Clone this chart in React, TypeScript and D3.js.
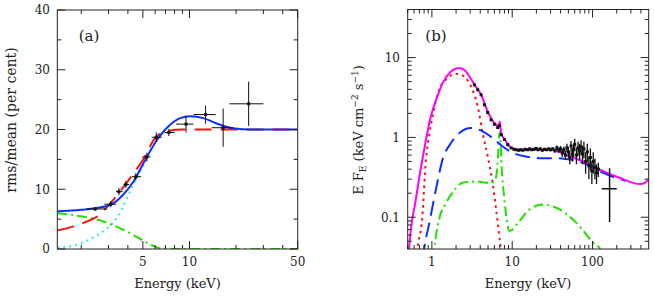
import React from "react";
import * as d3 from "d3";

// ---- panel (a): rms spectrum ----
const rmsE = [2.46, 3.1, 3.5, 3.88, 4.5, 5.3, 6.1, 7.35, 9.5, 12.7, 16.5, 24.1];
const rmsElo = [2.17, 2.82, 3.35, 3.75, 4.24, 4.95, 5.7, 6.9, 8.2, 10.6, 13.9, 18.1];
const rmsEhi = [2.93, 3.35, 3.7, 4.08, 4.87, 5.6, 6.6, 8.0, 10.6, 14.8, 19.2, 30];
const rmsVal = [6.7, 7.5, 9.6, 10.8, 12.1, 15.4, 18.7, 19.5, 20.9, 22.5, 20.3, 24.3];
const rmsErr = [0.3, 0.5, 0.6, 0.6, 0.6, 0.7, 0.8, 0.6, 1.4, 1.5, 3.2, 3.7];

const totalA: [number, number][] = [
  [1.4, 6.3], [2.0, 6.55], [2.5, 6.85], [3.1, 7.4], [3.7, 9.0], [4.35, 11.3], [5.3, 15.4],
  [6.15, 18.2], [7.1, 20.2], [8.7, 21.9], [10.1, 22.2], [12.3, 21.9], [15, 21.0],
  [19, 20.2], [25, 20.0], [35, 20.0], [50, 20.0],
];
const redA: [number, number][] = [
  [1.4, 3.1], [1.74, 3.7], [2.12, 4.5], [2.52, 5.4], [3.07, 7.6], [3.9, 11.0], [5.0, 14.9],
  [6.1, 18.8], [7.1, 19.6], [8.0, 19.95], [9, 20], [50, 20],
];
const cyanA: [number, number][] = [
  [1.4, 0.25], [1.83, 0.67], [2.34, 1.8], [2.85, 3.2], [3.4, 5.2], [3.94, 8.5], [4.57, 12.0],
  [5.44, 15.6], [6.1, 18.3], [6.8, 19.8], [7.5, 20.0],
];
const greenA: [number, number][] = [
  [1.4, 6.0], [2.07, 5.4], [2.6, 4.85], [3.4, 3.7], [4.35, 2.34], [5.3, 1.05], [6.5, 0.1],
  [7, 0], [50, 0],
];

// ---- panel (b): energy spectrum ----
const totalB: [number, number][] = [
  [0.5, 0.02], [0.52, 0.04], [0.63, 0.166], [0.8, 0.7], [0.97, 1.83], [1.17, 3.26], [1.36, 4.79],
  [1.73, 6.68], [2.09, 7.37], [2.3, 7.35], [2.53, 7.0], [3.07, 5.4], [3.38, 4.6], [4.1, 3.42],
  [4.95, 2.11], [6.0, 1.51], [6.8, 1.4], [7.0, 1.58], [7.15, 1.3], [7.3, 1.13], [8.4, 0.89],
  [9.7, 0.74], [12.3, 0.7], [18, 0.7], [29, 0.7], [52, 0.58], [84, 0.48], [123, 0.395],
  [220, 0.31], [389, 0.26], [450, 0.27], [500, 0.3],
];
const discB: [number, number][] = [
  [0.64, 0.03], [0.66, 0.04], [0.76, 0.1], [0.84, 0.5], [0.93, 1.1], [1.02, 1.83], [1.23, 3.95],
  [1.57, 5.53], [1.99, 6.25], [2.3, 6.1], [2.53, 5.79], [3.07, 4.34], [3.72, 2.44], [4.29, 1.13],
  [4.95, 0.58], [5.7, 0.27], [6.3, 0.125], [6.9, 0.058], [7.2, 0.04], [7.3, 0.03],
];
const comptB: [number, number][] = [
  [0.77, 0.03], [0.8, 0.04], [0.93, 0.085], [1.12, 0.22], [1.36, 0.53], [1.73, 0.85], [2.19, 1.13],
  [3.07, 1.31], [4.29, 1.19], [5.7, 0.98], [7.6, 0.77], [10.2, 0.64], [14.2, 0.58], [24, 0.55],
  [32, 0.55], [52, 0.53], [84, 0.46], [123, 0.377], [199, 0.31], [260, 0.285],
];
const reflB: [number, number][] = [
  [1.04, 0.03], [1.07, 0.04], [1.23, 0.094], [1.5, 0.15], [1.99, 0.23], [2.4, 0.27], [3.55, 0.28],
  [5.2, 0.27], [6.0, 0.28], [6.4, 0.35], [6.7, 0.65], [6.95, 1.15], [7.1, 1.05], [7.3, 0.53],
  [8.0, 0.166], [9.3, 0.067], [10.0, 0.07], [11.8, 0.085], [16.4, 0.125], [24.2, 0.144],
  [39, 0.125], [63, 0.085], [102, 0.048], [124, 0.04], [130, 0.035],
];

const specE = [
  3.38, 3.72, 4.1, 4.5, 4.95, 5.46, 6.0, 6.6, 6.9, 7.3, 8.0, 8.8, 9.7, 10.5, 11.2, 12.0, 12.8,
  13.6, 14.5, 15.5, 16.5, 17.5, 18.6, 19.8, 21, 22.3, 23.7, 25.2, 26.8, 28.5, 30, 32, 34, 36, 38,
  40, 42, 44, 46, 48, 50, 52, 54, 56, 58, 60, 63, 66, 69, 72, 75, 78, 82, 86, 90, 94, 98, 102,
  107, 112, 118,
];
const specVal = [
  4.55, 3.95, 3.42, 2.56, 2.05, 1.66, 1.46, 1.33, 1.4, 1.08, 0.94, 0.81, 0.74, 0.71, 0.7, 0.69,
  0.7, 0.69, 0.71, 0.7, 0.72, 0.7, 0.71, 0.73, 0.7, 0.72, 0.69, 0.71, 0.7, 0.72, 0.7, 0.72, 0.68,
  0.74, 0.69, 0.72, 0.64, 0.7, 0.6, 0.74, 0.66, 0.56, 0.78, 0.62, 0.7, 0.82, 0.6, 0.74, 0.68,
  0.76, 0.62, 0.72, 0.5, 0.66, 0.44, 0.56, 0.38, 0.5, 0.42, 0.36, 0.4,
];
const specErr = [
  0.05, 0.04, 0.04, 0.03, 0.03, 0.02, 0.02, 0.02, 0.02, 0.02, 0.02, 0.02, 0.01, 0.01, 0.01, 0.01,
  0.01, 0.01, 0.01, 0.01, 0.01, 0.01, 0.01, 0.02, 0.02, 0.02, 0.02, 0.02, 0.02, 0.02, 0.03, 0.03,
  0.04, 0.05, 0.05, 0.06, 0.07, 0.07, 0.08, 0.09, 0.1, 0.1, 0.12, 0.12, 0.13, 0.14, 0.14, 0.15,
  0.15, 0.16, 0.16, 0.17, 0.15, 0.17, 0.14, 0.17, 0.12, 0.15, 0.12, 0.1, 0.08,
];
// last broad bin
const lastE = 163, lastElo = 130, lastEhi = 200, lastVal = 0.228, lastLo = 0.087, lastHi = 0.41;

const font = "'DejaVu Serif', serif";
const axisColor = "#222";

const xA = d3.scaleLog().domain([1.4, 50]).range([57.3, 297.7]);
const yA = d3.scaleLinear().domain([0, 40]).range([249, 10]);
const xB = d3.scaleLog().domain([0.5, 500]).range([407.7, 648.7]);
const yB = d3.scaleLog().domain([0.04, 40]).range([249, 9.5]);

type Sc = (v: number) => number;

function Frame({ xs, ys, xMajor, xMinor, yMajor, yMinor }: {
  xs: any; ys: any; xMajor: number[]; xMinor: number[]; yMajor: number[]; yMinor: number[];
}) {
  const [x0, x1] = xs.range();
  const [y0, y1] = ys.range(); // y0 bottom, y1 top
  const lines: JSX.Element[] = [];
  const addX = (v: number, len: number, k: string) => {
    const x = xs(v);
    lines.push(<line key={"xb" + k} x1={x} x2={x} y1={y0} y2={y0 - len} />);
    lines.push(<line key={"xt" + k} x1={x} x2={x} y1={y1} y2={y1 + len} />);
  };
  const addY = (v: number, len: number, k: string) => {
    const y = ys(v);
    lines.push(<line key={"yl" + k} x1={x0} x2={x0 + len} y1={y} y2={y} />);
    lines.push(<line key={"yr" + k} x1={x1} x2={x1 - len} y1={y} y2={y} />);
  };
  xMajor.forEach((v, i) => addX(v, 8, "M" + i));
  xMinor.forEach((v, i) => addX(v, 4, "m" + i));
  yMajor.forEach((v, i) => addY(v, 8, "M" + i));
  yMinor.forEach((v, i) => addY(v, 4, "m" + i));
  return (
    <g stroke={axisColor} strokeWidth={1} fill="none">
      {lines}
      <rect x={x0} y={y1} width={x1 - x0} height={y0 - y1} />
    </g>
  );
}

function curve(xs: Sc, ys: Sc, pts: [number, number][]) {
  return d3.line<[number, number]>()
    .x((d) => xs(d[0]))
    .y((d) => ys(d[1]))
    .curve(d3.curveMonotoneX)(pts) || "";
}

const minorDecades = (lo: number, hi: number) => {
  const out: number[] = [];
  for (let d = lo; d < hi; d *= 10) for (let k = 2; k <= 9; k++) out.push(d * k);
  return out;
};

export default function App() {
  const bMinorX = [0.5, 0.6, 0.7, 0.8, 0.9, ...minorDecades(1, 100), 200, 300, 400];
  const bMinorY = [0.05, 0.06, 0.07, 0.08, 0.09, ...minorDecades(0.1, 10), 20, 30];
  const [ax0, ax1] = xA.range();
  const [bx0, bx1] = xB.range();
  return (
    <svg width={654} height={298} style={{ position: "absolute", left: 0, top: 0, background: "#fff" }}
      fontFamily={font}>
      <defs>
        <clipPath id="clipA"><rect x={ax0} y={10} width={ax1 - ax0} height={239} /></clipPath>
        <clipPath id="clipB"><rect x={bx0} y={9.5} width={bx1 - bx0} height={239.5} /></clipPath>
      </defs>

      {/* ---------- panel (a) ---------- */}
      <g clipPath="url(#clipA)" fill="none" strokeWidth={2}>
        <path d={curve(xA, yA, cyanA)} stroke="#33e8f0" strokeDasharray="2,4" />
        <path d={curve(xA, yA, greenA)} stroke="#22e000" strokeDasharray="10,4,2,4" />
        <path d={curve(xA, yA, redA)} stroke="#ff1010" strokeDasharray="17,9" />
        <path d={curve(xA, yA, totalA)} stroke="#1030ff" />
      </g>
      <g stroke="#111" strokeWidth={1}>
        {rmsE.map((e, i) => (
          <g key={i}>
            <line x1={xA(rmsElo[i])} x2={xA(rmsEhi[i])} y1={yA(rmsVal[i])} y2={yA(rmsVal[i])} />
            <line x1={xA(e)} x2={xA(e)} y1={yA(rmsVal[i] - rmsErr[i])} y2={yA(rmsVal[i] + rmsErr[i])} />
            <rect x={xA(e) - 1.5} y={yA(rmsVal[i]) - 1.5} width={3} height={3} fill="#111" stroke="none" />
          </g>
        ))}
      </g>
      <Frame xs={xA} ys={yA} xMajor={[5, 10, 50]} xMinor={[2, 3, 4, 6, 7, 8, 9, 20, 30, 40]}
        yMajor={[0, 10, 20, 30, 40]} yMinor={[5, 15, 25, 35]} />
      <g fontSize={12} fill="#222">
        {[0, 10, 20, 30, 40].map((v) => (
          <text key={v} x={50} y={yA(v)} dy="0.36em" textAnchor="end">{v}</text>
        ))}
        {[5, 10, 50].map((v) => (
          <text key={v} x={xA(v)} y={266} textAnchor="middle">{v}</text>
        ))}
      </g>
      <text x={177.5} y={287.5} fontSize={13} textAnchor="middle" fill="#222">Energy (keV)</text>
      <text transform="translate(16,120) rotate(-90)" fontSize={14} textAnchor="middle" fill="#222">
        rms/mean (per cent)
      </text>
      <text x={89} y={41} fontSize={15} textAnchor="middle" fill="#222">(a)</text>

      {/* ---------- panel (b) ---------- */}
      <g clipPath="url(#clipB)" fill="none" strokeWidth={2}>
        <path d={curve(xB, yB, discB)} stroke="#ff1010" strokeDasharray="2.5,4" />
        <path d={curve(xB, yB, reflB)} stroke="#22e000" strokeDasharray="10,4,2,4" />
        <path d={curve(xB, yB, comptB)} stroke="#1030ff" strokeDasharray="15,7" />
        <path d={curve(xB, yB, totalB)} stroke="#ff00ff" />
      </g>
      <g stroke="#111" strokeWidth={1.3} clipPath="url(#clipB)">
        {specE.map((e, i) => (
          <g key={i}>
            <line x1={xB(e)} x2={xB(e)} y1={yB(specVal[i] - specErr[i])} y2={yB(specVal[i] + specErr[i])} />
            <line x1={xB(e * 0.975)} x2={xB(e * 1.025)} y1={yB(specVal[i])} y2={yB(specVal[i])} />
            <rect x={xB(e) - 1.5} y={yB(specVal[i]) - 1.5} width={3} height={3} fill="#111" stroke="none" />
          </g>
        ))}
        <line x1={xB(lastElo)} x2={xB(lastEhi)} y1={yB(lastVal)} y2={yB(lastVal)} strokeWidth={1.5} />
        <line x1={xB(lastE)} x2={xB(lastE)} y1={yB(lastLo)} y2={yB(lastHi)} strokeWidth={1.5} />
      </g>
      <Frame xs={xB} ys={yB} xMajor={[1, 10, 100]} xMinor={bMinorX}
        yMajor={[0.1, 1, 10]} yMinor={bMinorY} />
      <g fontSize={12} fill="#222">
        {[0.1, 1, 10].map((v) => (
          <text key={v} x={400} y={yB(v)} dy="0.36em" textAnchor="end">{v}</text>
        ))}
        {[1, 10, 100].map((v) => (
          <text key={v} x={xB(v)} y={266} textAnchor="middle">{v}</text>
        ))}
      </g>
      <text x={528} y={287.5} fontSize={13} textAnchor="middle" fill="#222">Energy (keV)</text>
      <text transform="translate(363,130) rotate(-90)" fontSize={13} textAnchor="middle" fill="#222">
        E F<tspan fontSize={9} dy={3}>E</tspan>
        <tspan dy={-3}> (keV cm</tspan>
        <tspan fontSize={9} dy={-5}>−2</tspan>
        <tspan dy={5}> s</tspan>
        <tspan fontSize={9} dy={-5}>−1</tspan>
        <tspan dy={5}>)</tspan>
      </text>
      <text x={436} y={41} fontSize={15} textAnchor="middle" fill="#222">(b)</text>
    </svg>
  );
}
